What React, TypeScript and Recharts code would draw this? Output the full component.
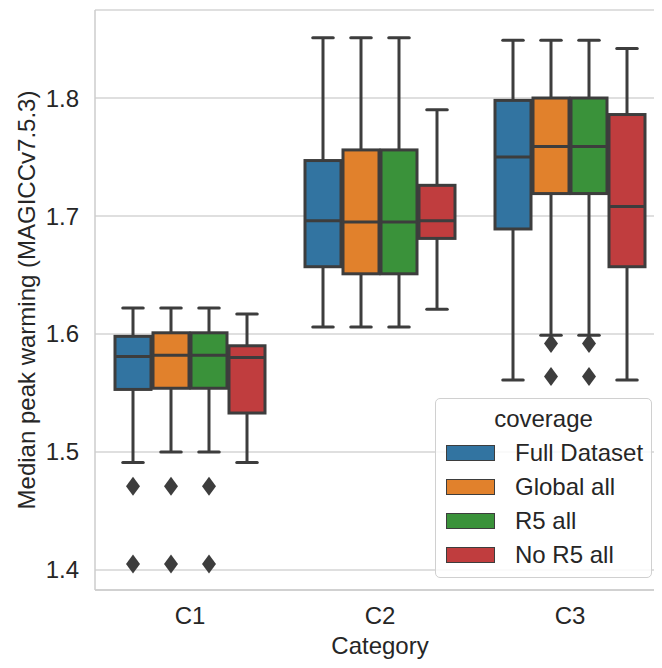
import React from 'react';
import { ComposedChart, Bar, XAxis, YAxis, CartesianGrid, Legend } from 'recharts';

const categories = ['C1', 'C2', 'C3'];
const coverages = ['Full Dataset', 'Global all', 'R5 all', 'No R5 all'];
const colors = ['#3274a1', '#e1812c', '#3a923a', '#c03d3e'];

// [lower whisker, q1, median, q3, upper whisker] for C1, C2, C3
const fullDataset = [
  [1.491, 1.553, 1.581, 1.598, 1.622],
  [1.606, 1.657, 1.696, 1.747, 1.851],
  [1.561, 1.689, 1.750, 1.798, 1.849],
];
const globalAll = [
  [1.500, 1.554, 1.582, 1.601, 1.622],
  [1.606, 1.651, 1.695, 1.756, 1.851],
  [1.599, 1.719, 1.759, 1.800, 1.849],
];
const r5All = [
  [1.500, 1.554, 1.582, 1.601, 1.622],
  [1.606, 1.651, 1.695, 1.756, 1.851],
  [1.599, 1.719, 1.759, 1.800, 1.849],
];
const noR5All = [
  [1.491, 1.533, 1.580, 1.590, 1.617],
  [1.621, 1.681, 1.696, 1.726, 1.790],
  [1.561, 1.657, 1.708, 1.786, 1.842],
];

// outliers for C1, C2, C3
const fullDatasetFliers = [[1.471, 1.405], [], []];
const globalAllFliers = [[1.471, 1.405], [], [1.592, 1.564]];
const r5AllFliers = [[1.471, 1.405], [], [1.592, 1.564]];
const noR5AllFliers = [[], [], []];

const yTicks = [1.4, 1.5, 1.6, 1.7, 1.8];

const boxStats = [fullDataset, globalAll, r5All, noR5All];
const fliers = [fullDatasetFliers, globalAllFliers, r5AllFliers, noR5AllFliers];

const data = categories.map((category, ci) => {
  const row: Record<string, any> = { category };
  coverages.forEach((name, si) => {
    const s = boxStats[si][ci];
    row[name] = [s[0], s[4]];
  });
  return row;
});

const FONT = '"Liberation Sans", Arial, sans-serif';
const EDGE = '#3d3d3d';
const LW = 3;

const makeBox = (si: number) => (props: any) => {
  const { x, y, width, height, payload } = props;
  const ci = categories.indexOf(payload.category);
  const [lo, q1, med, q3, hi] = boxStats[si][ci];
  // map values onto the bar's own pixel range (bar spans lo..hi)
  const toY = (v: number) => y + ((hi - v) / (hi - lo)) * height;
  const cx = x + width / 2;
  const cap = width * 0.27;
  return (
    <g>
      <line x1={cx} x2={cx} y1={toY(hi)} y2={toY(q3)} stroke={EDGE} strokeWidth={LW} />
      <line x1={cx} x2={cx} y1={toY(q1)} y2={toY(lo)} stroke={EDGE} strokeWidth={LW} />
      <line x1={cx - cap} x2={cx + cap} y1={toY(hi)} y2={toY(hi)} stroke={EDGE} strokeWidth={LW} strokeLinecap="round" />
      <line x1={cx - cap} x2={cx + cap} y1={toY(lo)} y2={toY(lo)} stroke={EDGE} strokeWidth={LW} strokeLinecap="round" />
      <rect x={x + 1} y={toY(q3)} width={width - 2} height={toY(q1) - toY(q3)} fill={colors[si]} stroke={EDGE} strokeWidth={LW} />
      <line x1={x + 1} x2={x + width - 1} y1={toY(med)} y2={toY(med)} stroke={EDGE} strokeWidth={LW} />
      {fliers[si][ci].map((v, i) => {
        const fy = toY(v);
        return (
          <path
            key={i}
            d={`M${cx},${fy - 9.5} L${cx + 7},${fy} L${cx},${fy + 9.5} L${cx - 7},${fy} Z`}
            fill={EDGE}
          />
        );
      })}
    </g>
  );
};

const LegendBox = () => (
  <div
    style={{
      position: 'relative',
      width: 217,
      height: 180,
      boxSizing: 'border-box',
      border: '1.5px solid #d0d0d0',
      borderRadius: 5,
      background: 'rgba(255,255,255,0.85)',
      fontFamily: FONT,
      color: '#262626',
    }}
  >
    <div style={{ position: 'absolute', top: 6, left: 0, width: '100%', textAlign: 'center', fontSize: 24, lineHeight: '28px' }}>
      coverage
    </div>
    {coverages.map((name, i) => (
      <div key={name} style={{ position: 'absolute', top: 37 + i * 34, left: 0, height: 34, display: 'flex', alignItems: 'center' }}>
        <div style={{ marginLeft: 10, width: 47, height: 14, background: colors[i], border: `1px solid ${EDGE}` }} />
        <div style={{ marginLeft: 20, fontSize: 24, lineHeight: '34px', whiteSpace: 'nowrap' }}>{name}</div>
      </div>
    ))}
  </div>
);

export default function App() {
  return (
    <div style={{ margin: -8, width: 662, height: 668, overflow: 'hidden', position: 'relative', background: '#fff', fontFamily: FONT }}>
      <ComposedChart
        width={670}
        height={668}
        data={data}
        margin={{ top: 10, right: 5, left: 0, bottom: 0 }}
        barGap={0}
        barCategoryGap="10%"
      >
        <CartesianGrid vertical={false} stroke="#d4d4d4" strokeWidth={1.5} />
        <XAxis
          dataKey="category"
          height={78}
          tickSize={0}
          tickMargin={17}
          tickLine={false}
          axisLine={{ stroke: '#cccccc', strokeWidth: 1.5 }}
          tick={{ fill: '#262626', fontSize: 24, fontFamily: FONT }}
          label={{ value: 'Category', position: 'insideBottom', offset: 14, style: { fill: '#262626', fontSize: 24, fontFamily: FONT } }}
        />
        <XAxis
          xAxisId="top"
          orientation="top"
          dataKey="category"
          height={0}
          tick={false}
          tickLine={false}
          axisLine={{ stroke: '#cccccc', strokeWidth: 1.5 }}
        />
        <YAxis
          type="number"
          domain={[1.383, 1.8746]}
          ticks={yTicks}
          allowDataOverflow
          width={95}
          tickSize={0}
          tickMargin={16}
          tickLine={false}
          axisLine={{ stroke: '#cccccc', strokeWidth: 1.5 }}
          tick={{ fill: '#262626', fontSize: 24, fontFamily: FONT }}
          tickFormatter={(v: number) => v.toFixed(1)}
          label={{
            value: 'Median peak warming (MAGICCv7.5.3)',
            angle: -90,
            position: 'insideLeft',
            offset: 26,
            style: { textAnchor: 'middle', fill: '#262626', fontSize: 24, fontFamily: FONT },
          }}
        />
        {coverages.map((name, si) => (
          <Bar
            key={name}
            dataKey={name}
            fill={colors[si]}
            shape={makeBox(si)}
            isAnimationActive={false}
          />
        ))}
        <Legend
          layout="vertical"
          align="center"
          verticalAlign="middle"
          wrapperStyle={{ left: 435, top: 398, width: 217 }}
          content={() => <LegendBox />}
        />
      </ComposedChart>
    </div>
  );
}
